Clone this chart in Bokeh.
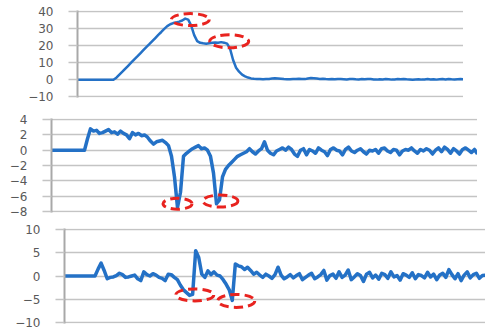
from bokeh.plotting import figure
from bokeh.layouts import column, row
from bokeh.models import SingleIntervalTicker, Range1d, Spacer
from bokeh.embed import file_html
from bokeh.resources import INLINE

# ---------------- data ----------------
# panel 1 (range -10..40)
p1_values = [
    0, 0, 0, 0, 0, 0, 0, 0, 0, 0, 0, 0, 0,
    1.2, 3.0, 4.7, 6.5, 8.3, 10.1, 11.9, 13.6, 15.4, 17.2,
    19.0, 20.7, 22.5, 24.3, 26.1, 27.8, 29.6, 31.2, 32.3, 33.0,
    33.4, 33.8, 34.5, 35.6, 35.0, 31.5, 26.0, 22.5, 21.5, 21.2,
    21.0, 21.3, 21.5, 21.7, 21.5, 21.9, 21.6, 21.0, 18.0, 11.5,
    7.0, 4.7, 3.0, 2.0, 1.3, 0.8, 0.6, 0.5,
    0.4, 0.3, 0.4, 0.5, 0.7, 0.9, 0.8, 0.6, 0.4, 0.3,
    0.3, 0.4, 0.5, 0.6, 0.5, 0.4, 0.8, 1.0, 0.9, 0.7,
    0.5, 0.6, 0.4, 0.3, 0.4, 0.3, 0.5, 0.4, 0.3, 0.2,
    0.4, 0.5, 0.3, 0.2, 0.4, 0.3, 0.5, 0.4, 0.2, 0.1,
    0.3, 0.2, 0.4, 0.3, 0.1, 0.2, 0.4, 0.3, 0.5, 0.3,
    0.2, 0.0, 0.2, 0.3, 0.1, 0.2, 0.4, 0.2, 0.3, 0.1,
    0.3, 0.4, 0.2, 0.5, 0.3, 0.2, 0.3, 0.4, 0.3,
]
p1_ticks = [-10, 0, 10, 20, 30, 40]
p1_mark_x = [37.7, 50.7]
p1_mark_y = [35.0, 22.4]

# panel 2 (range -8..4)
p2_values = [
    0, 0, 0, 0, 0, 0, 0, 0, 0, 0, 0, 0,
    1.5, 2.8, 2.5, 2.6, 2.2, 2.3, 2.5, 2.7, 2.3, 2.4,
    2.1, 2.5, 2.2, 2.0, 1.5, 2.3, 2.0, 2.2, 1.9, 2.0,
    1.7, 1.2, 0.8, 1.1, 1.2, 1.3, 1.0, 0.6, -0.8, -3.5,
    -7.5, -5.5, -0.8, -0.4, -0.1, 0.2, 0.4, 0.6, 0.2, 0.3,
    0.0, -0.8, -3.0, -7.0, -6.5, -3.5, -2.5, -2.0, -1.6, -1.2,
    -0.8, -0.6, -0.4, -0.2, 0.2,
    -0.2, -0.5, -0.1, 0.2, 1.1, 0.0, -0.4, -0.6, -0.1, 0.1,
    0.3, 0.0, 0.4, 0.1, -0.5, -0.8, 0.0, 0.2, -0.6, 0.1,
    -0.1, -0.4, 0.3, 0.0, -0.2, -0.7, 0.1, 0.3, 0.0, -0.1,
    -0.6, 0.1, 0.4, -0.1, -0.3, 0.0, 0.2, -0.2, -0.5, 0.0,
    -0.1, 0.1, -0.4, 0.2, 0.3, -0.1, -0.3, 0.1, 0.0, -0.6,
    -0.1, 0.1, 0.0, 0.3, -0.1, -0.4, 0.1, -0.1, 0.2, 0.0,
    -0.5, 0.0, 0.3, -0.2, 0.4, 0.1, -0.4, 0.2, -0.1, -0.5,
    0.1, 0.3, 0.0, -0.3, 0.1, -0.5,
]
p2_ticks = [-8, -6, -4, -2, 0, 2, 4]
p2_mark_x = [42.0, 56.3]
p2_mark_y = [-7.0, -6.65]

# panel 3 (range -10..10)
p3_values = [
    0, 0, 0, 0, 0, 0, 0, 0, 0, 0, 0,
    1.5, 2.8, 1.2, -0.6, -0.3, -0.2, 0.1, 0.6, 0.3, -0.3,
    -0.2, 0.0, 0.2, -0.6, -1.0, 0.9, 0.3, 0.0, 0.5, 0.2,
    -0.3, -0.5, -1.0, 0.4, 0.3, -0.3, -0.8, -2.0, -3.0, -3.6,
    -4.2, -4.0, 5.5, 4.0, 0.4, -0.3, 1.1, 0.3, 0.9, 0.2,
    0.0, -0.8, -1.8, -3.0, -5.3, 2.6, 2.2, 2.0, 1.4, 1.9,
    1.2, 0.4,
    0.8, 0.2, -0.3, 0.4, 0.0, -0.5, 0.3, 1.9, 0.2, -0.6,
    -0.2, 0.3, -0.4, 0.1, 0.5, -0.8, -0.3, 0.2, 0.6, -0.6,
    -0.2, 0.3, 1.2, -0.9, 0.1, 0.4, -0.5, 0.9, -0.3, 0.2,
    1.3, -0.8, -0.2, 0.5, 0.1, -1.2, 0.4, 0.8, -0.4, 0.2,
    -0.7, 0.6, 0.3, -0.5, 0.9, -0.2, 0.1, -0.9, 0.5, 0.2,
    -0.3, 0.7, -0.6, 0.3, 0.1, -0.4, 0.8, -0.2, 0.4, -0.8,
    0.2, 0.6, -0.3, 1.4, 0.3, -0.6, 0.5, -1.0, 0.2, 0.9,
    -0.4, 0.3, 0.6, -0.5, 0.1, 0.2,
]
p3_ticks = [-10, -5, 0, 5, 10]
p3_mark_x = [42.7, 56.3]
p3_mark_y = [-4.1, -5.4]

# ---------------- styling ----------------
LINE = "#2471c6"
GRID = "#c4c4c4"
AXIS = "#a8a8a8"
LABEL = "#595959"
MARK = "#e8231f"
LEFT = 51


def panel(values, ticks, pad, frame_w, height, top, bottom, lw,
          mx, my, mw, mh):
    step = ticks[1] - ticks[0]
    p = figure(width=LEFT + frame_w, height=height, x_axis_type=None,
               output_backend="svg", toolbar_location=None,
               x_range=Range1d(0, len(values) - 1),
               y_range=Range1d(ticks[0] - pad, ticks[-1] + pad),
               min_border_left=LEFT, min_border_right=0,
               min_border_top=top, min_border_bottom=bottom)
    p.outline_line_color = None
    p.background_fill_color = "white"
    p.border_fill_color = "white"
    ax = p.yaxis[0]
    ax.ticker = SingleIntervalTicker(interval=step)
    ax.axis_line_color = AXIS
    ax.axis_line_width = 2
    ax.major_tick_out = 9
    ax.major_tick_in = 0
    ax.minor_tick_out = 0
    ax.minor_tick_in = 0
    ax.major_tick_line_color = GRID
    ax.major_tick_line_width = 1.5
    ax.major_label_text_font = "DejaVu Sans"
    ax.major_label_text_font_size = "12px"
    ax.major_label_text_color = LABEL
    ax.major_label_standoff = 15
    p.ygrid.grid_line_color = GRID
    p.ygrid.grid_line_width = 1.5
    p.line(list(range(len(values))), values, line_color=LINE,
           line_width=lw, line_join="round")
    p.ellipse(x=mx, y=my, width=mw, height=mh,
              width_units="screen", height_units="screen",
              fill_color=None, line_color=MARK, line_width=3,
              line_dash="9 5")
    return p


f1 = panel(p1_values, p1_ticks, 0.3, 387, 105, 10, 8, 2.5,
           p1_mark_x, p1_mark_y, [38, 39], [12, 13])
f2 = panel(p2_values, p2_ticks, 0.15, 426, 113, 13, 6, 3.5,
           p2_mark_x, p2_mark_y, [29, 35], [11, 12])
f3 = panel(p3_values, p3_ticks, 0.3, 422, 113, 10, 8, 3.5,
           p3_mark_x, p3_mark_y, [38, 37], [12, 13])

r1 = row(Spacer(width=25, height=105), f1, spacing=0)
r2 = row(f2, spacing=0)
r3 = row(Spacer(width=12, height=113), f3, spacing=0)

layout = column(r1, r2, r3, spacing=0)

open("out.html", "w").write(file_html(layout, INLINE))
